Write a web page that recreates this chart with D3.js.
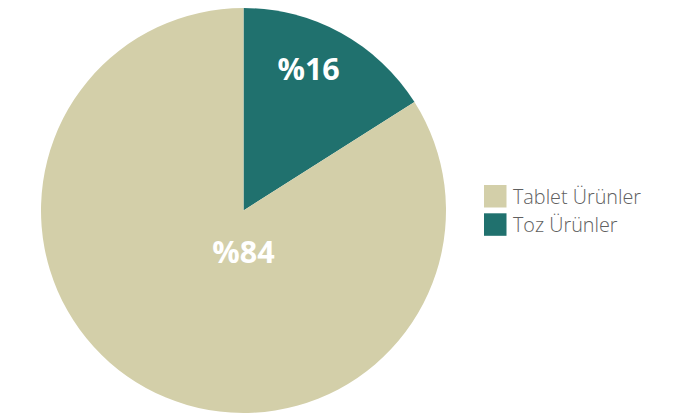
<!DOCTYPE html>
<html><head><meta charset="utf-8">
<script src="https://cdn.jsdelivr.net/npm/d3@7"></script>
<style>body{margin:0;background:#fff}svg{display:block}</style>
</head><body>
<script>
const categories = ["Toz Ürünler", "Tablet Ürünler"];
const values = [16, 84];
const labels = ["%16", "%84"];
const legendOrder = ["Tablet Ürünler", "Toz Ürünler"];
const colors = {"Tablet Ürünler": "#d3cfa9", "Toz Ürünler": "#20716e"};

const W = 699, H = 418, cx = 243.5, cy = 210.5, R = 202.5;
const svg = d3.select("body").append("svg").attr("width", W).attr("height", H);
const data = categories.map((c, i) => ({c, v: values[i], l: labels[i]}));
const pie = d3.pie().sort(null).value(d => d.v);
const arc = d3.arc().innerRadius(0).outerRadius(R);
const g = svg.append("g").attr("transform", `translate(${cx},${cy})`);
const arcs = pie(data);
g.selectAll("path").data(arcs).join("path")
  .attr("d", arc).attr("fill", d => colors[d.data.c]);

const labelPos = [
  d => { const a = (d.startAngle + d.endAngle) / 2 - 0.075; const r = R * 0.775; return [Math.sin(a) * r, -Math.cos(a) * r]; },
  d => [0, R * 0.2]
];
g.selectAll("text.lbl").data(arcs).join("text").attr("class", "lbl")
  .attr("x", (d, i) => labelPos[i](d)[0])
  .attr("y", (d, i) => labelPos[i](d)[1])
  .attr("text-anchor", "middle").attr("dominant-baseline", "central")
  .attr("fill", "#fff").attr("font-family", "'Open Sans', sans-serif")
  .attr("font-weight", "bold").attr("font-size", 30.5)
  .text(d => d.data.l);

const lg = svg.append("g").attr("transform", "translate(484,185)");
const items = lg.selectAll("g").data(legendOrder).join("g")
  .attr("transform", (d, i) => `translate(0,${i * 28.3})`);
items.append("rect").attr("width", 22.5).attr("height", 22.5).attr("fill", d => colors[d]);
items.append("text").attr("x", 29).attr("y", 11.5).attr("dominant-baseline", "central")
  .attr("font-family", "'Open Sans', sans-serif").attr("font-weight", 300).attr("font-size", 19.8)
  .attr("fill", "#606060")
  .text(d => d);
</script>
</body></html>
